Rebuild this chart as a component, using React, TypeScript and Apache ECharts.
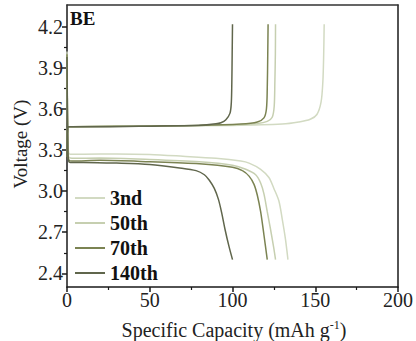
import React, { useEffect, useRef } from "react";
import * as echarts from "echarts";

// Galvanostatic charge/discharge profiles, [capacity (mAh/g), voltage (V)]
const cycleNames = ["3nd", "50th", "70th", "140th"];
const cycleColors = ["#d2dac2", "#c6cfb0", "#7b8352", "#60664c"];

const charge3: number[][] = [[0, 3.25], [0.3, 3.46], [1, 3.47], [50, 3.475], [100, 3.48], [130, 3.49], [140, 3.505], [147, 3.525], [151, 3.56], [153.5, 3.65], [154.6, 3.8], [155.1, 4.0], [155.4, 4.22]];
const charge50: number[][] = [[0, 3.25], [0.3, 3.46], [1, 3.47], [50, 3.475], [100, 3.485], [115, 3.495], [121, 3.51], [124, 3.54], [125.2, 3.62], [125.6, 3.8], [125.9, 4.0], [126, 4.22]];
const charge70: number[][] = [[0, 3.25], [0.3, 3.46], [1, 3.47], [40, 3.475], [80, 3.48], [105, 3.49], [115, 3.505], [119, 3.535], [120.5, 3.6], [121, 3.75], [121.3, 4.0], [121.5, 4.22]];
const charge140: number[][] = [[0, 3.25], [0.3, 3.46], [1, 3.47], [20, 3.47], [50, 3.475], [80, 3.482], [90, 3.492], [93, 3.5], [96, 3.522], [98.5, 3.57], [99.3, 3.65], [99.6, 3.8], [99.8, 4.0], [100, 4.22]];

const discharge3: number[][] = [[0, 4.02], [0.5, 3.4], [1, 3.28], [2, 3.27], [10, 3.27], [30, 3.272], [50, 3.268], [70, 3.255], [90, 3.24], [105, 3.22], [110, 3.205], [117, 3.16], [122, 3.1], [125, 3.02], [128, 2.93], [130, 2.8], [132, 2.65], [133.5, 2.5]];
const discharge50: number[][] = [[0, 4.0], [0.5, 3.35], [1, 3.25], [3, 3.24], [20, 3.242], [50, 3.232], [80, 3.215], [100, 3.19], [108, 3.16], [114, 3.12], [117, 3.06], [119, 2.98], [121, 2.85], [123, 2.72], [125, 2.58], [126, 2.5]];
const discharge70: number[][] = [[0, 4.0], [0.5, 3.3], [1, 3.23], [3, 3.22], [20, 3.225], [50, 3.215], [80, 3.2], [100, 3.175], [106, 3.15], [110, 3.11], [113, 3.05], [115, 2.97], [117, 2.85], [119, 2.68], [121, 2.5]];
const discharge140: number[][] = [[0, 3.98], [0.5, 3.3], [1, 3.22], [2, 3.21], [10, 3.21], [30, 3.205], [50, 3.195], [68, 3.17], [78, 3.15], [83, 3.12], [86, 3.08], [89, 3.02], [91.5, 2.94], [93.5, 2.84], [95.5, 2.72], [97.8, 2.6], [100, 2.5]];

const chargeCurves = [charge3, charge50, charge70, charge140];
const dischargeCurves = [discharge3, discharge50, discharge70, discharge140];

const xTicks = [0, 50, 100, 150, 200];
const yMajorTicks = [2.4, 2.7, 3.0, 3.3, 3.6, 3.9, 4.2];
const yMinorTicks = [2.55, 2.85, 3.15, 3.45, 3.75, 4.05];

const FONT = "Liberation Serif";

export default function App() {
  const ref = useRef<HTMLDivElement>(null);

  useEffect(() => {
    if (!ref.current) return;
    const chart = echarts.init(ref.current, undefined, { renderer: "svg" });

    const series: any[] = [];
    cycleNames.forEach((name, i) => {
      [chargeCurves[i], dischargeCurves[i]].forEach((d) => {
        series.push({
          name,
          type: "line",
          data: d,
          symbol: "none",
          smooth: 0.3,
          xAxisIndex: 0,
          yAxisIndex: 0,
          lineStyle: { color: cycleColors[i], width: 1.5 },
          itemStyle: { color: cycleColors[i] },
          z: 2 + i,
        });
      });
    });

    const axisLineStyle = { color: "#1a1a1a", width: 1.5 };

    chart.setOption({
      animation: false,
      grid: { left: 67, right: 14, top: 5, bottom: 54 },
      legend: {
        data: cycleNames,
        orient: "vertical",
        left: 70,
        top: 183,
        icon: "rect",
        itemWidth: 30,
        itemHeight: 2,
        itemGap: 5,
        textStyle: { fontFamily: FONT, fontSize: 20, fontWeight: "bold", color: "#111" },
      },
      xAxis: [
        {
          type: "value",
          min: 0,
          max: 200,
          interval: 50,
          position: "bottom",
          axisLine: { lineStyle: axisLineStyle },
          axisTick: { show: true, inside: false, length: 5, lineStyle: axisLineStyle },
          minorTick: { show: true, splitNumber: 2, length: 3, lineStyle: { color: "#1a1a1a", width: 1.2 } },
          splitLine: { show: false },
          axisLabel: { fontFamily: FONT, fontSize: 20, color: "#222", margin: 3, customValues: xTicks },
        },
        {
          type: "value",
          min: 0,
          max: 200,
          position: "top",
          axisLine: { show: true, lineStyle: { color: "#333", width: 1.5 } },
          axisTick: { show: false },
          axisLabel: { show: false },
          splitLine: { show: false },
        },
      ],
      yAxis: [
        {
          type: "value",
          min: 2.3,
          max: 4.36,
          position: "left",
          axisLine: { show: true, lineStyle: axisLineStyle },
          axisTick: { show: true, length: 5, lineStyle: axisLineStyle, customValues: yMajorTicks },
          splitLine: { show: false },
          axisLabel: {
            fontFamily: FONT,
            fontSize: 20,
            color: "#222",
            margin: 4,
            customValues: yMajorTicks,
            formatter: (v: number) => v.toFixed(1),
          },
        },
        {
          type: "value",
          min: 2.3,
          max: 4.36,
          position: "left",
          axisLine: { show: false },
          axisTick: { show: true, length: 3, lineStyle: { color: "#1a1a1a", width: 1.2 }, customValues: yMinorTicks },
          axisLabel: { show: false },
          splitLine: { show: false },
        },
        {
          type: "value",
          min: 2.3,
          max: 4.36,
          position: "right",
          axisLine: { show: true, lineStyle: axisLineStyle },
          axisTick: { show: false },
          axisLabel: { show: false },
          splitLine: { show: false },
        },
      ],
      graphic: [
        {
          type: "text",
          left: 70,
          top: 9,
          style: { text: "BE", fontFamily: FONT, fontSize: 19, fontWeight: "bold", fill: "#111" },
        },
        {
          type: "text",
          x: 20,
          y: 144,
          rotation: Math.PI / 2,
          style: {
            text: "Voltage (V)",
            fontFamily: FONT,
            fontSize: 19,
            fill: "#222",
            align: "center",
            verticalAlign: "middle",
          },
        },
        {
          type: "text",
          x: 234,
          y: 330,
          style: {
            text: "Specific Capacity (mAh g{sup|-1})",
            fontFamily: FONT,
            fontSize: 20,
            fill: "#222",
            align: "center",
            verticalAlign: "middle",
            rich: {
              sup: { fontFamily: FONT, fontSize: 12, fill: "#222", verticalAlign: "top", padding: [0, 0, 10, 0] },
            },
          },
        },
      ],
      series,
    });

    return () => chart.dispose();
  }, []);

  return (
    <div
      ref={ref}
      style={{ position: "absolute", left: 0, top: 0, width: 416, height: 341 }}
    />
  );
}
